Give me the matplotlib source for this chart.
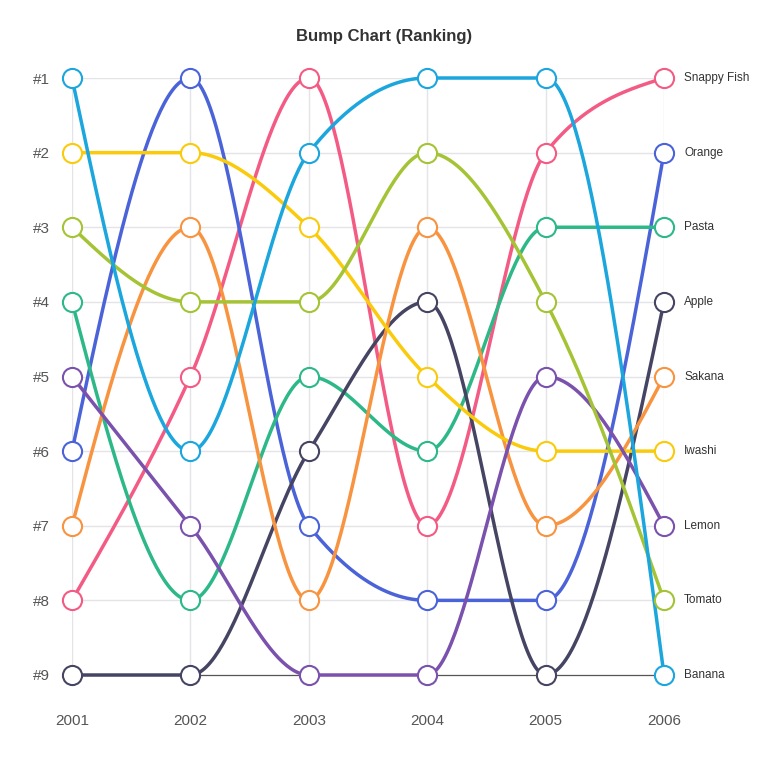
import matplotlib
matplotlib.use('Agg')
import matplotlib.pyplot as plt
import numpy as np

years = [2001, 2002, 2003, 2004, 2005, 2006]
names = ['Snappy Fish', 'Orange', 'Pasta', 'Apple', 'Sakana',
         'Iwashi', 'Lemon', 'Tomato', 'Banana']
colors = ['#F45B84', '#4B63D8', '#2DB888', '#454563', '#F8933F',
          '#FACB0C', '#7B51AE', '#A5C435', '#1BA6DD']
ranks = {
    'Snappy Fish': [8, 5, 1, 7, 2, 1],
    'Orange':      [6, 1, 7, 8, 8, 2],
    'Pasta':       [4, 8, 5, 6, 3, 3],
    'Apple':       [9, 9, 6, 4, 9, 4],
    'Sakana':      [7, 3, 8, 3, 7, 5],
    'Iwashi':      [2, 2, 3, 5, 6, 6],
    'Lemon':       [5, 7, 9, 9, 5, 7],
    'Tomato':      [3, 4, 4, 2, 4, 8],
    'Banana':      [1, 6, 2, 1, 1, 9],
}
rank_labels = ['#%d' % i for i in range(1, 10)]

plt.rcParams['font.family'] = ['Liberation Sans', 'DejaVu Sans']


def monotone_curve(x, y, n=60):
    # Steffen monotone cubic, same as d3.curveMonotoneX
    x = np.asarray(x, float)
    y = np.asarray(y, float)
    h = np.diff(x)
    s = np.diff(y) / h
    m = np.zeros(len(x))
    for i in range(1, len(x) - 1):
        p = (s[i - 1] * h[i] + s[i] * h[i - 1]) / (h[i - 1] + h[i])
        m[i] = (np.sign(s[i - 1]) + np.sign(s[i])) * min(abs(s[i - 1]), abs(s[i]), 0.5 * abs(p))
    m[0] = (3 * s[0] - m[1]) / 2
    m[-1] = (3 * s[-1] - m[-2]) / 2
    xs, ys = [], []
    for i in range(len(x) - 1):
        t = np.linspace(0, 1, n)
        h00 = 2 * t**3 - 3 * t**2 + 1
        h10 = t**3 - 2 * t**2 + t
        h01 = -2 * t**3 + 3 * t**2
        h11 = t**3 - t**2
        xs.append(x[i] + t * h[i])
        ys.append(h00 * y[i] + h10 * h[i] * m[i] + h01 * y[i + 1] + h11 * h[i] * m[i + 1])
    return np.concatenate(xs), np.concatenate(ys)


fig = plt.figure(figsize=(7.68, 7.68), dpi=100)
ax = fig.add_axes([72 / 768, 93 / 768, 592 / 768, 597 / 768])

for name, col in zip(names, colors):
    cx, cy = monotone_curve(years, ranks[name])
    ax.plot(cx, cy, color=col, lw=2.5, solid_capstyle='round', zorder=3, clip_on=False)
for name, col in zip(names, colors):
    ax.scatter(years, ranks[name], s=190, facecolor='white', edgecolor=col,
               linewidth=1.5, zorder=5, clip_on=False)
    ax.text(years[-1] + 0.17, ranks[name][-1], name, ha='left', va='center',
            fontsize=8.5, color='#333333')

ax.set_xlim(years[0], years[-1])
ax.set_ylim(9, 1)
ax.set_xticks(years)
ax.set_xticklabels([str(y) for y in years], fontsize=11, color='#555555')
ax.set_yticks(range(1, 10))
ax.set_yticklabels(rank_labels, fontsize=11, color='#555555')
ax.tick_params(axis='both', length=0)
ax.tick_params(axis='x', pad=28)
ax.tick_params(axis='y', pad=16)
ax.grid(True, color='#e4e4e8', lw=1, zorder=0)
for sp in ['top', 'left', 'right']:
    ax.spines[sp].set_visible(False)
ax.spines['bottom'].set_color('#555555')
ax.spines['bottom'].set_linewidth(0.9)
ax.spines['bottom'].set_zorder(1)

fig.text(384 / 768, 1 - 36 / 768, 'Bump Chart (Ranking)', ha='center', va='center',
         fontsize=12, fontweight='bold', color='#333333')

fig.savefig('out.png', dpi=100, facecolor='white')
